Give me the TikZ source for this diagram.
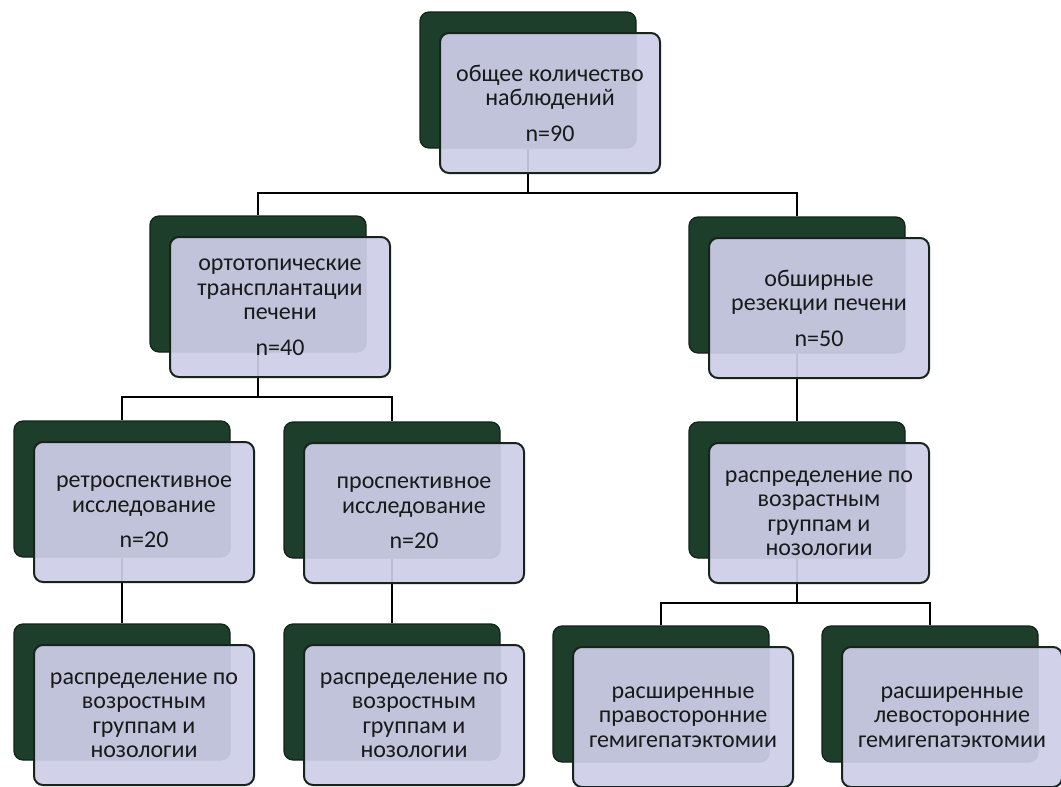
\documentclass[tikz,border=0pt]{standalone}
\usepackage{fontspec}
\setmainfont{Carlito}
\definecolor{backgreen}{RGB}{30,62,44}
\definecolor{backedge}{RGB}{18,34,24}
\definecolor{frontfill}{RGB}{206,207,233}
\definecolor{frontedge}{RGB}{22,36,28}
\definecolor{txt}{RGB}{25,25,25}
\begin{document}
\begin{tikzpicture}[x=1pt,y=-1pt,
  backbox/.style={draw=backedge, line width=1.2pt, fill=backgreen, rounded corners=9pt,
    minimum width=216pt, minimum height=136pt, inner sep=0pt},
  frontbox/.style={draw=frontedge, line width=2pt, fill=frontfill, fill opacity=0.92,
    text opacity=1, rounded corners=9pt, minimum width=220pt, minimum height=140pt,
    align=center, font=\fontsize{24}{24.5}\selectfont, text=txt, inner sep=2pt},
  link/.style={draw=black, line width=1.6pt}]
\useasboundingbox (0,0) rectangle (1061,787);
\fill[white] (0,0) rectangle (1061,787);
% back boxes
\node[backbox] (topB) at (528,80) {};
\node[backbox] (l2lB) at (258,284) {};
\node[backbox] (l2rB) at (797,285) {};
\node[backbox] (l3lB) at (122,489) {};
\node[backbox] (l3mB) at (392,490) {};
\node[backbox] (l3rB) at (797,490) {};
\node[backbox] (l4lB) at (122,692) {};
\node[backbox] (l4mB) at (392,692) {};
\node[backbox] (l4r1B) at (661,694) {};
\node[backbox] (l4r2B) at (930,694) {};
% connectors
\coordinate (j1) at (528,193);
\draw[link] (topB.south) -- (j1);
\draw[link] (j1) -| (l2lB.north);
\draw[link] (j1) -| (l2rB.north);
\coordinate (j2) at (258,397);
\draw[link] (l2lB.south) -- (j2);
\draw[link] (j2) -| (l3lB.north);
\draw[link] (j2) -| (l3mB.north);
\draw[link] (l2rB.south) -- (l3rB.north);
\draw[link] (l3lB.south) -- (l4lB.north);
\draw[link] (l3mB.south) -- (l4mB.north);
\coordinate (j3) at (797,603);
\draw[link] (l3rB.south) -- (j3);
\draw[link] (j3) -| (l4r1B.north);
\draw[link] (j3) -| (l4r2B.north);
% front boxes
\node[frontbox] (topF) at (550,103) {общее количество\\наблюдений\\[11pt]n=90};
\node[frontbox] (l2lF) at (280,307) {ортотопические\\трансплантации\\печени\\[11pt]n=40};
\node[frontbox] (l2rF) at (819,308) {обширные\\резекции печени\\[11pt]n=50};
\node[frontbox] (l3lF) at (144,512) {ретроспективное\\исследование\\[11pt]n=20};
\node[frontbox] (l3mF) at (414,513) {проспективное\\исследование\\[11pt]n=20};
\node[frontbox] (l3rF) at (819,513) {распределение по\\возрастным\\группам и\\нозологии};
\node[frontbox] (l4lF) at (144,715) {распределение по\\возростным\\группам и\\нозологии};
\node[frontbox] (l4mF) at (414,715) {распределение по\\возростным\\группам и\\нозологии};
\node[frontbox] (l4r1F) at (683,717) {расширенные\\правосторонние\\гемигепатэктомии};
\node[frontbox] (l4r2F) at (952,717) {расширенные\\левосторонние\\гемигепатэктомии};
\end{tikzpicture}
\end{document}
